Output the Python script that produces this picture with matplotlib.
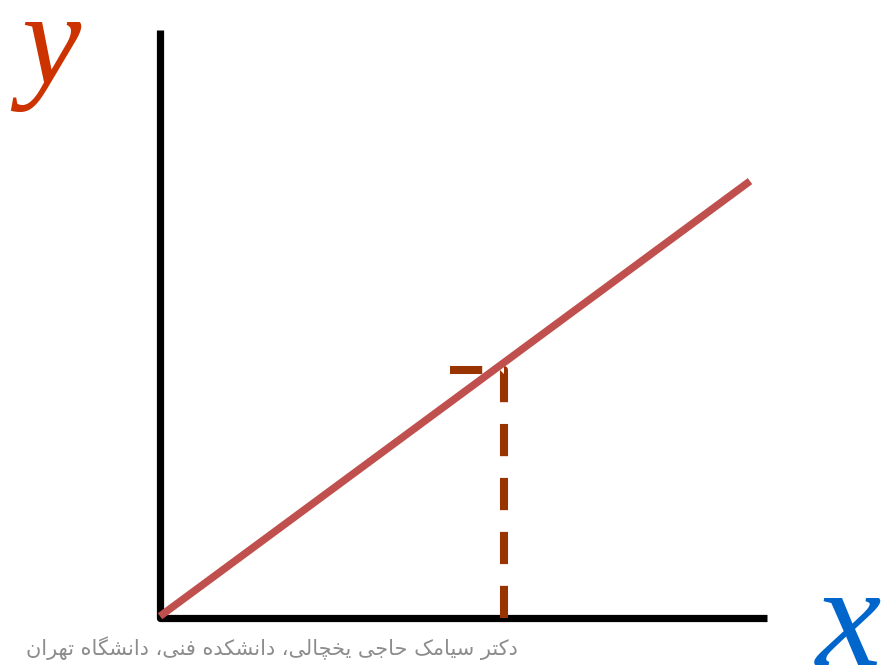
import matplotlib
matplotlib.use("Agg")
import matplotlib.pyplot as plt

# ---- data ----
axis_x = [0, 0, 10]
axis_y = [10, 0, 0]
line_x = [0, 9.72]
line_y = [0.03, 7.43]
guide_x = [4.78, 5.67, 5.67]
guide_y = [4.22, 4.22, 0]
x_label = "x"
y_label = "y"
credit = "دکتر سیامک حاجی یخچالی، دانشکده فنی، دانشگاه تهران"

# ---- simple Arabic/Persian shaping (no external libs) ----
FORMS = {
    'ا': ('\uFE8D', '\uFE8E', None, None),
    'ت': ('\uFE95', '\uFE96', '\uFE97', '\uFE98'),
    'ج': ('\uFE9D', '\uFE9E', '\uFE9F', '\uFEA0'),
    'ح': ('\uFEA1', '\uFEA2', '\uFEA3', '\uFEA4'),
    'خ': ('\uFEA5', '\uFEA6', '\uFEA7', '\uFEA8'),
    'د': ('\uFEA9', '\uFEAA', None, None),
    'ر': ('\uFEAD', '\uFEAE', None, None),
    'س': ('\uFEB1', '\uFEB2', '\uFEB3', '\uFEB4'),
    'ش': ('\uFEB5', '\uFEB6', '\uFEB7', '\uFEB8'),
    'ف': ('\uFED1', '\uFED2', '\uFED3', '\uFED4'),
    'ل': ('\uFEDD', '\uFEDE', '\uFEDF', '\uFEE0'),
    'م': ('\uFEE1', '\uFEE2', '\uFEE3', '\uFEE4'),
    'ن': ('\uFEE5', '\uFEE6', '\uFEE7', '\uFEE8'),
    'ه': ('\uFEE9', '\uFEEA', '\uFEEB', '\uFEEC'),
    'ک': ('\uFB8E', '\uFB8F', '\uFB90', '\uFB91'),
    'گ': ('\uFB92', '\uFB93', '\uFB94', '\uFB95'),
    'چ': ('\uFB7A', '\uFB7B', '\uFB7C', '\uFB7D'),
    'ی': ('\uFBFC', '\uFBFD', '\uFBFE', '\uFBFF'),
}


def joins_next(c):
    return c in FORMS and FORMS[c][2] is not None


def shape(text):
    out = []
    n = len(text)
    for i, c in enumerate(text):
        if c not in FORMS:
            out.append(c)
            continue
        prev_c = text[i - 1] if i > 0 else ''
        next_c = text[i + 1] if i < n - 1 else ''
        con_prev = joins_next(prev_c)
        con_next = joins_next(c) and next_c in FORMS
        iso, fin, ini, med = FORMS[c]
        if con_prev and con_next:
            out.append(med)
        elif con_prev:
            out.append(fin)
        elif con_next:
            out.append(ini)
        else:
            out.append(iso)
    return ''.join(reversed(out))


# ---- figure ----
W, H = 884, 669
fig = plt.figure(figsize=(W / 100, H / 100), dpi=100)
ax = fig.add_axes([0, 0, 1, 1])
ux, uy = 60.7, 58.8  # pixels per data unit
ax.set_xlim(-160 / ux, (W - 160) / ux)
ax.set_ylim(-(H - 618) / uy, 618 / uy)
ax.axis("off")

ax.plot(axis_x, axis_y, color="black", lw=5.2, solid_joinstyle="round",
        solid_capstyle="butt", zorder=2)
ax.plot(guide_x, guide_y, color="#993300", lw=5.8, dashes=(4.0, 2.7),
        dash_capstyle="butt", zorder=3)
ax.plot(line_x, line_y, color="#C0504D", lw=5.4, solid_capstyle="butt", zorder=4)

ax.text(-2.28, 9.08, y_label, color="#CC3300", fontsize=96,
        family="Liberation Serif", style="italic", ha="left", va="baseline")
ax.text(10.81, -0.80, x_label, color="#0066CC", fontsize=106,
        family="Liberation Serif", style="italic", ha="left", va="baseline")

ax.text(272 / 884, 1 - 648 / 669, shape(credit), transform=fig.transFigure,
        color="#8C8C8C", fontsize=15, family="DejaVu Sans",
        ha="center", va="center")

fig.savefig("out.png", dpi=100)
